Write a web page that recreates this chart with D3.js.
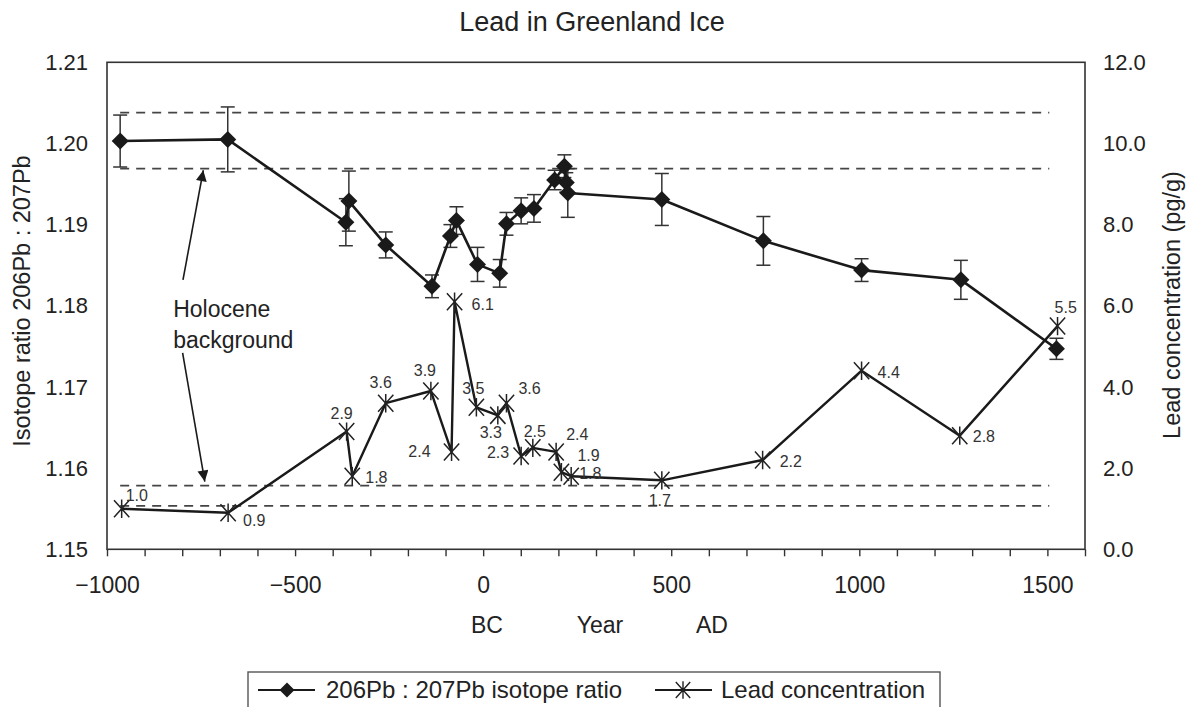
<!DOCTYPE html>
<html>
<head>
<meta charset="utf-8">
<script src="https://cdn.jsdelivr.net/npm/d3@7"></script>
<style>
  html, body { margin: 0; padding: 0; background: #fff; }
  svg { display: block; font-family: "Liberation Sans", Arial, Helvetica, sans-serif; }
</style>
</head>
<body>
<svg id="chart" width="1188" height="707"></svg>
<script>
// ---------------- DATA ----------------
const isoYears  = [-965, -679, -365, -357, -259, -136, -87, -71, -15, 44, 62, 101, 135, 190, 216, 221, 225, 475, 745, 1006, 1270, 1524];
const isoValues = [1.2003, 1.2005, 1.1903, 1.1929, 1.1875, 1.1824, 1.1886, 1.1905, 1.1851, 1.1840, 1.1901, 1.1917, 1.1920, 1.1955, 1.1972, 1.1952, 1.1939, 1.1931, 1.1880, 1.1844, 1.1832, 1.1747];
const isoErrors = [0.0032, 0.0040, 0.0029, 0.0037, 0.0016, 0.0014, 0.0014, 0.0017, 0.0021, 0.0017, 0.0014, 0.0016, 0.0017, 0.0012, 0.0014, 0.0012, 0.0030, 0.0032, 0.0030, 0.0014, 0.0024, 0.0013];

const concYears  = [-961, -678, -363, -348, -259, -139, -84, -76, -18, 39, 62, 101, 132, 194, 208, 234, 475, 743, 1006, 1267, 1527];
const concValues = [1.0, 0.9, 2.9, 1.8, 3.6, 3.9, 2.4, 6.1, 3.5, 3.3, 3.6, 2.3, 2.5, 2.4, 1.9, 1.8, 1.7, 2.2, 4.4, 2.8, 5.5];

// Holocene background bands
const isoBand  = [1.2038, 1.1969];
const concBand = [1.57, 1.07];
const bandYears = [-965, 1505];

const xTicks = d3.range(-1000, 1601, 100);
const xLabelTicks = [-1000, -500, 0, 500, 1000, 1500];
const leftTicks = [1.15, 1.16, 1.17, 1.18, 1.19, 1.20, 1.21];
const rightTicks = [0, 2, 4, 6, 8, 10, 12];

// label placement for concentration values: [dx, dy, anchor]
const concLabelPlacement = [
  [4, -8, "start"], [15, 13, "start"], [-5, -13, "middle"], [13, 7, "start"],
  [-5, -15, "middle"], [-6, -15, "middle"], [-21, 5, "end"], [17, 8, "start"],
  [-3, -13, "middle"], [-7, 23, "middle"], [12, -9, "start"], [-12, 2, "end"],
  [2, -11, "middle"], [10, -12, "start"], [16, -11, "start"], [8, 3, "start"],
  [-2, 26, "middle"], [17, 7, "start"], [16, 7, "start"], [13, 6, "start"],
  [-3, -13, "start"]
];

// ---------------- LAYOUT ----------------
const svg = d3.select("#chart");
const L = 107, R = 1085, T = 62.3, B = 549.3;
const ink = "#1a1a1a";

const x = d3.scaleLinear().domain([-1000, 1600]).range([L, R]);
const yIso = d3.scaleLinear().domain([1.15, 1.21]).range([B, T]);
const yConc = d3.scaleLinear().domain([0, 12]).range([B, T]);

// Title
svg.append("text").attr("x", 592).attr("y", 31).attr("text-anchor", "middle")
  .attr("font-size", 27).attr("fill", "#222").text("Lead in Greenland Ice");

// Axes
const minus = v => (v < 0 ? "\u2212" + Math.abs(v) : String(v));
const gx = svg.append("g").attr("transform", `translate(0,${B})`)
  .call(d3.axisBottom(x).tickValues(xTicks).tickSize(7).tickPadding(20)
    .tickFormat(d => xLabelTicks.includes(d) ? minus(d) : ""));
const gl = svg.append("g").attr("transform", `translate(${L},0)`)
  .call(d3.axisLeft(yIso).tickValues(leftTicks).tickSize(0).tickPadding(19).tickFormat(d3.format(".2f")));
const gr = svg.append("g").attr("transform", `translate(${R},0)`)
  .call(d3.axisRight(yConc).tickValues(rightTicks).tickSize(0).tickPadding(18).tickFormat(d3.format(".1f")));
[gx, gl, gr].forEach(g => {
  g.select(".domain").remove();
  g.selectAll("text").attr("font-size", 22).attr("fill", "#222").attr("font-family", "Liberation Sans, Arial, sans-serif");
  g.selectAll("line").attr("stroke", "#333").attr("stroke-width", 1.4);
});
gx.selectAll("text").attr("font-size", 23);

// Frame
svg.append("rect").attr("x", L).attr("y", T).attr("width", R - L).attr("height", B - T)
  .attr("fill", "none").attr("stroke", "#333").attr("stroke-width", 1.6);

// Axis titles
svg.append("text").attr("transform", `translate(30,301) rotate(-90)`).attr("text-anchor", "middle")
  .attr("font-size", 23.5).attr("fill", "#222").text("Isotope ratio 206Pb : 207Pb");
svg.append("text").attr("transform", `translate(1180,305) rotate(-90)`).attr("text-anchor", "middle")
  .attr("font-size", 23.5).attr("fill", "#222").text("Lead concentration (pg/g)");
svg.append("text").attr("x", 487).attr("y", 633).attr("text-anchor", "middle").attr("font-size", 23).attr("fill", "#222").text("BC");
svg.append("text").attr("x", 600).attr("y", 633).attr("text-anchor", "middle").attr("font-size", 23).attr("fill", "#222").text("Year");
svg.append("text").attr("x", 712).attr("y", 633).attr("text-anchor", "middle").attr("font-size", 23).attr("fill", "#222").text("AD");

// Dashed background lines
const dash = svg.append("g").attr("stroke", "#444").attr("stroke-width", 1.6).attr("stroke-dasharray", "9,7");
isoBand.forEach(v => dash.append("line").attr("x1", x(bandYears[0])).attr("x2", x(bandYears[1]))
  .attr("y1", yIso(v)).attr("y2", yIso(v)));
concBand.forEach(v => dash.append("line").attr("x1", x(bandYears[0])).attr("x2", x(bandYears[1]))
  .attr("y1", yConc(v)).attr("y2", yConc(v)));

// Annotation
const defs = svg.append("defs");
defs.append("marker").attr("id", "arrow").attr("viewBox", "0 0 10 10").attr("refX", 10).attr("refY", 5)
  .attr("markerWidth", 15).attr("markerHeight", 11).attr("markerUnits", "userSpaceOnUse").attr("orient", "auto")
  .append("path").attr("d", "M0,0 L10,5 L0,10 Z").attr("fill", ink);
svg.append("line").attr("x1", x(-798)).attr("y1", yIso(1.1832)).attr("x2", x(-744)).attr("y2", yIso(1.1967))
  .attr("stroke", ink).attr("stroke-width", 1.6).attr("marker-end", "url(#arrow)");
svg.append("line").attr("x1", x(-799)).attr("y1", yConc(4.84)).attr("x2", x(-740)).attr("y2", yConc(1.67))
  .attr("stroke", ink).attr("stroke-width", 1.6).attr("marker-end", "url(#arrow)");
svg.append("text").attr("x", x(-824)).attr("y", yIso(1.1786)).attr("font-size", 23).attr("fill", "#222").text("Holocene");
svg.append("text").attr("x", x(-824)).attr("y", yIso(1.1748)).attr("font-size", 23).attr("fill", "#222").text("background");

// Symbols
const diamond = s => `M0,${-s} L${s},0 L0,${s} L${-s},0 Z`;
const asterisk = s => `M0,${-s * 1.08} L0,${s * 1.08} M${-s * 0.9},${-s} L${s * 0.9},${s} M${-s * 0.9},${s} L${s * 0.9},${-s}`;

// Isotope series
const isoData = isoYears.map((yr, i) => ({ yr, v: isoValues[i], e: isoErrors[i] }));
const eb = svg.append("g").attr("stroke", "#333").attr("stroke-width", 1.5);
isoData.forEach(d => {
  const xx = x(d.yr), y1 = yIso(d.v + d.e), y2 = yIso(d.v - d.e);
  eb.append("line").attr("x1", xx).attr("x2", xx).attr("y1", y1).attr("y2", y2);
  eb.append("line").attr("x1", xx - 7).attr("x2", xx + 7).attr("y1", y1).attr("y2", y1);
  eb.append("line").attr("x1", xx - 7).attr("x2", xx + 7).attr("y1", y2).attr("y2", y2);
});
svg.append("path").datum(isoData)
  .attr("d", d3.line().x(d => x(d.yr)).y(d => yIso(d.v)))
  .attr("fill", "none").attr("stroke", ink).attr("stroke-width", 2.6).attr("stroke-linejoin", "round");
svg.append("g").selectAll("path").data(isoData).join("path")
  .attr("transform", d => `translate(${x(d.yr)},${yIso(d.v)})`)
  .attr("d", diamond(8.5)).attr("fill", ink);

// Concentration series
const concData = concYears.map((yr, i) => ({ yr, v: concValues[i], p: concLabelPlacement[i] }));
svg.append("path").datum(concData)
  .attr("d", d3.line().x(d => x(d.yr)).y(d => yConc(d.v)))
  .attr("fill", "none").attr("stroke", ink).attr("stroke-width", 2.4).attr("stroke-linejoin", "round");
svg.append("g").selectAll("path").data(concData).join("path")
  .attr("transform", d => `translate(${x(d.yr)},${yConc(d.v)})`)
  .attr("d", asterisk(8.5)).attr("fill", "none").attr("stroke", "#222").attr("stroke-width", 1.5);
svg.append("g").selectAll("text").data(concData).join("text")
  .attr("x", d => x(d.yr) + d.p[0]).attr("y", d => yConc(d.v) + d.p[1])
  .attr("text-anchor", d => d.p[2]).attr("font-size", 16).attr("fill", "#333")
  .text(d => d3.format(".1f")(d.v));

// Legend
const lg = svg.append("g");
lg.append("rect").attr("x", 248).attr("y", 672).attr("width", 692).attr("height", 60)
  .attr("fill", "#fff").attr("stroke", "#555").attr("stroke-width", 1.4);
lg.append("line").attr("x1", 258).attr("x2", 315).attr("y1", 690).attr("y2", 690).attr("stroke", ink).attr("stroke-width", 2.2);
lg.append("path").attr("transform", "translate(287,690)").attr("d", diamond(7.5)).attr("fill", ink);
lg.append("text").attr("x", 326).attr("y", 698).attr("font-size", 24).attr("fill", "#222").text("206Pb : 207Pb isotope ratio");
lg.append("line").attr("x1", 655).attr("x2", 712).attr("y1", 690).attr("y2", 690).attr("stroke", ink).attr("stroke-width", 2.2);
lg.append("path").attr("transform", "translate(683,690)").attr("d", asterisk(8)).attr("fill", "none").attr("stroke", "#222").attr("stroke-width", 1.4);
lg.append("text").attr("x", 721).attr("y", 698).attr("font-size", 24).attr("fill", "#222").text("Lead concentration");
</script>
</body>
</html>
